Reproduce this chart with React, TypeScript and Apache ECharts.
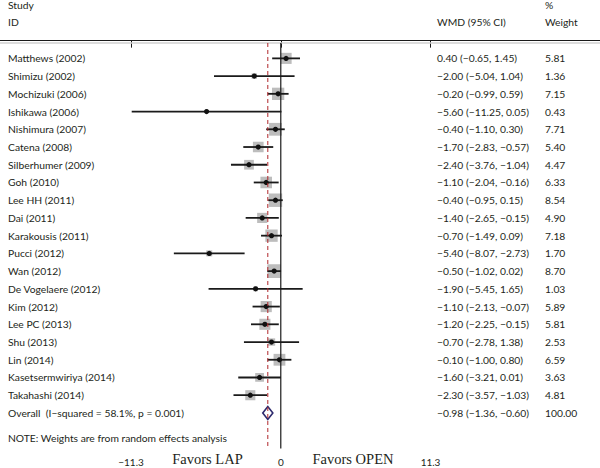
import React, { useEffect, useRef } from "react";
import * as echarts from "echarts";

const studies = [
  "Matthews (2002)", "Shimizu (2002)", "Mochizuki (2006)", "Ishikawa (2006)", "Nishimura (2007)",
  "Catena (2008)", "Silberhumer (2009)", "Goh (2010)", "Lee HH (2011)", "Dai (2011)",
  "Karakousis (2011)", "Pucci (2012)", "Wan (2012)", "De Vogelaere (2012)", "Kim (2012)",
  "Lee PC (2013)", "Shu (2013)", "Lin (2014)", "Kasetsermwiriya (2014)", "Takahashi (2014)",
];
const estimates = [0.4, -2.0, -0.2, -5.6, -0.4, -1.7, -2.4, -1.1, -0.4, -1.4, -0.7, -5.4, -0.5, -1.9, -1.1, -1.2, -0.7, -0.1, -1.6, -2.3];
const lowers = [-0.65, -5.04, -0.99, -11.25, -1.1, -2.83, -3.76, -2.04, -0.95, -2.65, -1.49, -8.07, -1.02, -5.45, -2.13, -2.25, -2.78, -1.0, -3.21, -3.57];
const uppers = [1.45, 1.04, 0.59, 0.05, 0.3, -0.57, -1.04, -0.16, 0.15, -0.15, 0.09, -2.73, 0.02, 1.65, -0.07, -0.15, 1.38, 0.8, 0.01, -1.03];
const weights = [5.81, 1.36, 7.15, 0.43, 7.71, 5.4, 4.47, 6.33, 8.54, 4.9, 7.18, 1.7, 8.7, 1.03, 5.89, 5.81, 2.53, 6.59, 3.63, 4.81];

const overallLabel = "Overall  (I\u2212squared = 58.1%, p = 0.001)";
const overallEst = -0.98;
const overallLower = -1.36;
const overallUpper = -0.6;
const overallWeight = 100.0;

const xTicks = [-11.3, 0, 11.3];
const xMin = -21.19;
const xMax = 24.09;

const FONT = "Lato, 'Open Sans', sans-serif";
const TXT = "#231f20";
const BODY = 10.3;

const fmt = (v: number) => v.toFixed(2).replace("-", "\u2212");
const ciText = (e: number, l: number, u: number) => `${fmt(e)} (${fmt(l)}, ${fmt(u)})`;

export default function App() {
  const ref = useRef<HTMLDivElement>(null);
  useEffect(() => {
    if (!ref.current) return;
    const chart = echarts.init(ref.current, undefined, { renderer: "svg" });

    const studyData = studies.map((s, i) => [i + 1, estimates[i], lowers[i], uppers[i], weights[i], i]);
    const overallRow = studies.length + 1;
    const topR = 0.132;
    const axisR = 23;

    const textEl = (text: string, x: number, y: number, size = BODY, align = "left") => ({
      type: "text",
      style: { text, x, y, fill: TXT, fontSize: size, fontFamily: FONT, verticalAlign: "middle", align },
    });

    chart.setOption({
      animation: false,
      grid: { left: 0, right: 0, top: 40.65, bottom: 19.6, containLabel: false },
      xAxis: {
        type: "value",
        min: xMin,
        max: xMax,
        splitLine: { show: false },
        axisLine: { show: true, lineStyle: { color: "#1a1a1a", width: 1 } },
        axisTick: { show: true, customValues: xTicks, length: 7, lineStyle: { color: "#1a1a1a" } },
        axisLabel: {
          show: true,
          customValues: xTicks,
          fontSize: 10,
          fontFamily: FONT,
          color: TXT,
          margin: 9,
          formatter: (v: number) => String(v).replace("-", "\u2212"),
        },
      },
      yAxis: { type: "value", min: 0, max: axisR, inverse: true, show: false },
      series: [
        {
          type: "line",
          data: [[xMin, topR], [xMax, topR]],
          symbol: "none",
          lineStyle: { color: "#d0d0d0", width: 1.5 },
          silent: true,
        },
        {
          type: "line",
          data: [[0, topR], [0, axisR]],
          symbol: "none",
          lineStyle: { color: "#1a1a1a", width: 1.2 },
          silent: true,
        },
        {
          type: "line",
          data: [[overallEst, topR], [overallEst, axisR]],
          symbol: "none",
          lineStyle: { color: "#b0252a", width: 1, type: [4, 3] },
          silent: true,
        },
        {
          type: "custom",
          clip: false,
          data: studyData,
          renderItem: (params: any, api: any) => {
            const r = api.value(0);
            const e = api.value(1);
            const l = api.value(2);
            const u = api.value(3);
            const w = api.value(4);
            const idx = api.value(5);
            const pe = api.coord([e, r]);
            const pl = api.coord([l, r]);
            const pu = api.coord([u, r]);
            const side = 4.6 * Math.sqrt(w);
            return {
              type: "group",
              children: [
                { type: "rect", shape: { x: pe[0] - side / 2, y: pe[1] - side / 2, width: side, height: side }, style: { fill: "#bdbdbd" } },
                { type: "line", shape: { x1: pl[0], y1: pl[1], x2: pu[0], y2: pu[1] }, style: { stroke: "#1a1a1a", lineWidth: 1.8 } },
                { type: "circle", shape: { cx: pe[0], cy: pe[1], r: 2.6 }, style: { fill: "#111" } },
                textEl(studies[idx], 8, pe[1]),
                textEl(ciText(e, l, u), 437, pe[1]),
                textEl(w.toFixed(2), 545, pe[1]),
              ],
            };
          },
        },
        {
          type: "custom",
          clip: false,
          data: [[overallRow, overallEst, overallLower, overallUpper, overallWeight]],
          renderItem: (params: any, api: any) => {
            const r = api.value(0);
            const e = api.value(1);
            const l = api.value(2);
            const u = api.value(3);
            const w = api.value(4);
            const pe = api.coord([e, r]);
            const pl = api.coord([l, r]);
            const pu = api.coord([u, r]);
            const h = 6.5;
            return {
              type: "group",
              children: [
                {
                  type: "polygon",
                  shape: { points: [[pl[0], pe[1]], [pe[0], pe[1] - h], [pu[0], pe[1]], [pe[0], pe[1] + h]] },
                  style: { fill: "#ffffff", stroke: "#2e2b6e", lineWidth: 1.6 },
                },
                textEl(overallLabel, 8, pe[1]),
                textEl(ciText(e, l, u), 437, pe[1]),
                textEl(w.toFixed(2), 545, pe[1]),
              ],
            };
          },
        },
      ],
      graphic: [
        textEl("Study", 8, 5),
        textEl("ID", 8, 22),
        textEl("WMD (95% CI)", 437, 22),
        textEl("%", 545, 5),
        textEl("Weight", 545, 22),
        textEl("NOTE: Weights are from random effects analysis", 8, 438),
        {
          type: "text",
          style: { text: "Favors LAP", x: 207.5, y: 459, fill: TXT, fontSize: 14.5, fontFamily: "'Liberation Serif', 'DejaVu Serif', serif", align: "center", verticalAlign: "middle" },
        },
        {
          type: "text",
          style: { text: "Favors OPEN", x: 353, y: 459, fill: TXT, fontSize: 14.5, fontFamily: "'Liberation Serif', 'DejaVu Serif', serif", align: "center", verticalAlign: "middle" },
        },
      ],
    });
    return () => chart.dispose();
  }, []);

  return (
    <div
      ref={ref}
      style={{ position: "fixed", left: 0, top: 0, width: 600, height: 468, background: "#fff" }}
    />
  );
}
